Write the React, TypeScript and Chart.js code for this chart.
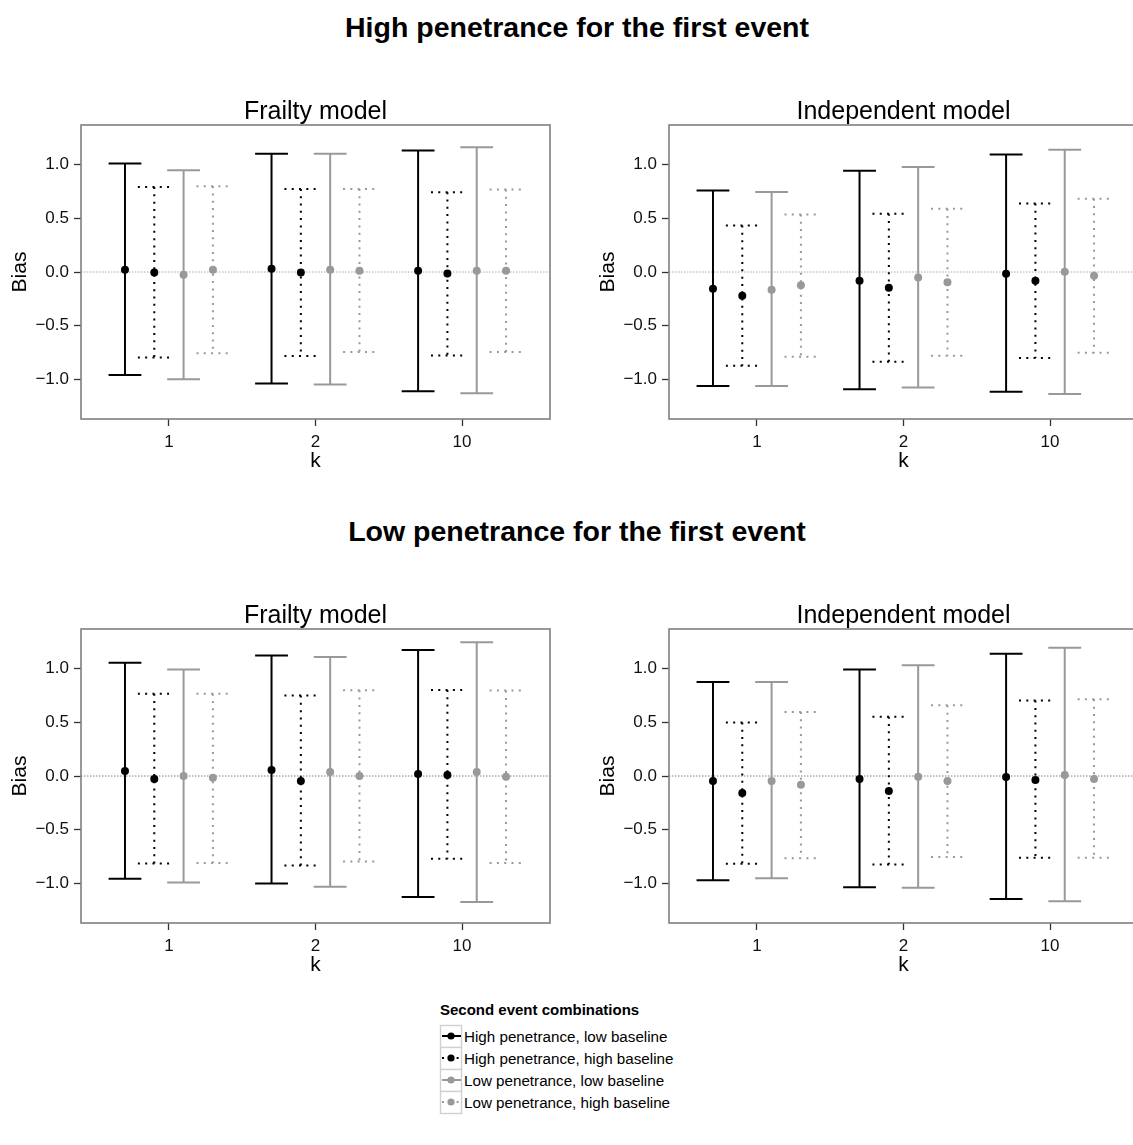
import React, { useEffect, useRef } from "react";
import { Chart, registerables } from "chart.js";

Chart.register(...registerables);

const FONT = '"Liberation Sans", Arial, Helvetica, sans-serif';

// ---------- data ----------
const K_LABELS = ["1", "2", "10"];
const Y_TICKS = [-1, -0.5, 0, 0.5, 1];
const SERIES_NAMES = [
  "High penetrance, low baseline",
  "High penetrance, high baseline",
  "Low penetrance, low baseline",
  "Low penetrance, high baseline",
];

// rows = series (in SERIES_NAMES order), columns = k (K_LABELS order)
// High penetrance for the first event — Frailty model
const HIGH_FRAILTY_MEAN = [
  [0.02, 0.03, 0.012],
  [-0.005, -0.005, -0.015],
  [-0.025, 0.022, 0.012],
  [0.022, 0.012, 0.012],
];
const HIGH_FRAILTY_LOWER = [
  [-0.957, -1.037, -1.109],
  [-0.795, -0.78, -0.776],
  [-0.997, -1.047, -1.127],
  [-0.755, -0.745, -0.745],
];
const HIGH_FRAILTY_UPPER = [
  [1.01, 1.1, 1.13],
  [0.79, 0.773, 0.742],
  [0.947, 1.1, 1.16],
  [0.798, 0.773, 0.767],
];

// High penetrance for the first event — Independent model
const HIGH_INDEP_MEAN = [
  [-0.155, -0.081, -0.016],
  [-0.22, -0.146, -0.081],
  [-0.165, -0.05, 0.003],
  [-0.124, -0.096, -0.034],
];
const HIGH_INDEP_LOWER = [
  [-1.06, -1.09, -1.114],
  [-0.871, -0.834, -0.8],
  [-1.06, -1.073, -1.135],
  [-0.787, -0.778, -0.75],
];
const HIGH_INDEP_UPPER = [
  [0.759, 0.942, 1.092],
  [0.432, 0.541, 0.638],
  [0.743, 0.977, 1.138],
  [0.535, 0.588, 0.681],
];

// Low penetrance for the first event — Frailty model
const LOW_FRAILTY_MEAN = [
  [0.047, 0.056, 0.019],
  [-0.028, -0.047, 0.009],
  [0.0, 0.037, 0.037],
  [-0.016, 0.0, -0.006],
];
const LOW_FRAILTY_LOWER = [
  [-0.956, -1.0, -1.125],
  [-0.813, -0.832, -0.77],
  [-0.99, -1.031, -1.171],
  [-0.81, -0.794, -0.81],
];
const LOW_FRAILTY_UPPER = [
  [1.053, 1.121, 1.171],
  [0.766, 0.748, 0.8],
  [0.99, 1.106, 1.243],
  [0.766, 0.797, 0.794],
];

// Low penetrance for the first event — Independent model
const LOW_INDEP_MEAN = [
  [-0.047, -0.028, -0.009],
  [-0.159, -0.14, -0.037],
  [-0.047, -0.006, 0.009],
  [-0.081, -0.047, -0.028],
];
const LOW_INDEP_LOWER = [
  [-0.969, -1.034, -1.143],
  [-0.816, -0.822, -0.76],
  [-0.95, -1.04, -1.165],
  [-0.766, -0.754, -0.76],
];
const LOW_INDEP_UPPER = [
  [0.875, 0.99, 1.137],
  [0.498, 0.551, 0.701],
  [0.875, 1.031, 1.193],
  [0.595, 0.657, 0.713],
];

// ---------- styling ----------
const GREY = "#999999";
const DOT_DASH = [2, 5.3];
const SERIES_STYLE = [
  { color: "#000000", dash: [] as number[] },
  { color: "#000000", dash: DOT_DASH },
  { color: GREY, dash: [] as number[] },
  { color: GREY, dash: DOT_DASH },
];
const DODGE = [-0.3, -0.1, 0.1, 0.3];
const CAP_HALF = 0.112;

const CANVAS_W = 554;
const CANVAS_H = 395;
const Y_AXIS_W = 81;
const X_AXIS_H = 61;
const PAD_TOP = 40;

const fmtY = (v: number) => v.toFixed(1).replace("-", "\u2212");

type PanelProps = {
  title: string;
  mean: number[][];
  lower: number[][];
  upper: number[][];
  left: number;
  top: number;
  zeroColor: string;
};

function Panel({ title, mean, lower, upper, left, top, zeroColor }: PanelProps) {
  const ref = useRef<HTMLCanvasElement>(null);
  useEffect(() => {
    const canvas = ref.current;
    if (!canvas) return;
    const datasets = SERIES_NAMES.map((name, s) => ({
      label: name,
      data: K_LABELS.map((_, i) => ({ x: i + 1 + DODGE[s], y: mean[s][i] })),
      errLow: lower[s],
      errHigh: upper[s],
      showLine: false,
      pointRadius: 4,
      pointHoverRadius: 4,
      pointBorderWidth: 0,
      pointBackgroundColor: SERIES_STYLE[s].color,
      backgroundColor: SERIES_STYLE[s].color,
      borderColor: SERIES_STYLE[s].color,
    }));

    const decor = {
      id: "decor",
      beforeDatasetsDraw(chart: any) {
        const { ctx, chartArea: a } = chart;
        const x = chart.scales.x;
        const y = chart.scales.y;
        ctx.save();
        // zero reference line
        ctx.strokeStyle = zeroColor;
        ctx.lineWidth = 1;
        ctx.setLineDash([1.5, 1.5]);
        const y0 = y.getPixelForValue(0);
        ctx.beginPath();
        ctx.moveTo(a.left, y0);
        ctx.lineTo(a.right, y0);
        ctx.stroke();
        // error bars
        chart.data.datasets.forEach((ds: any, s: number) => {
          ctx.strokeStyle = SERIES_STYLE[s].color;
          ctx.lineWidth = 2;
          ctx.lineCap = "butt";
          ctx.setLineDash(SERIES_STYLE[s].dash);
          ds.data.forEach((pt: any, i: number) => {
            const px = x.getPixelForValue(pt.x);
            const pl = x.getPixelForValue(pt.x - CAP_HALF);
            const pr = x.getPixelForValue(pt.x + CAP_HALF);
            const yl = y.getPixelForValue(ds.errLow[i]);
            const yh = y.getPixelForValue(ds.errHigh[i]);
            ctx.beginPath();
            ctx.moveTo(pl, yh);
            ctx.lineTo(pr, yh);
            ctx.stroke();
            ctx.beginPath();
            ctx.moveTo(px, yh);
            ctx.lineTo(px, yl);
            ctx.stroke();
            ctx.beginPath();
            ctx.moveTo(pl, yl);
            ctx.lineTo(pr, yl);
            ctx.stroke();
          });
        });
        ctx.restore();
      },
      afterDraw(chart: any) {
        const { ctx, chartArea: a } = chart;
        ctx.save();
        ctx.setLineDash([]);
        ctx.strokeStyle = "#7f7f7f";
        ctx.lineWidth = 1.6;
        ctx.strokeRect(a.left, a.top, a.right - a.left, a.bottom - a.top);
        ctx.fillStyle = "#000";
        ctx.textAlign = "center";
        ctx.textBaseline = "alphabetic";
        ctx.font = `25px ${FONT}`;
        ctx.fillText(title, (a.left + a.right) / 2, a.top - 6);
        ctx.font = `21px ${FONT}`;
        ctx.fillText("k", (a.left + a.right) / 2, a.bottom + 48);
        ctx.translate(26, (a.top + a.bottom) / 2);
        ctx.rotate(-Math.PI / 2);
        ctx.fillText("Bias", 0, 0);
        ctx.restore();
      },
    };

    const chart = new Chart(canvas, {
      type: "scatter",
      data: { datasets: datasets as any },
      options: {
        animation: false,
        responsive: false,
        devicePixelRatio: 1,
        events: [],
        layout: { padding: { top: PAD_TOP, left: 0, right: 0, bottom: 0 } },
        plugins: {
          legend: { display: false },
          tooltip: { enabled: false },
          title: { display: false },
        },
        scales: {
          x: {
            type: "linear",
            min: 0.4,
            max: 3.6,
            afterBuildTicks: (s: any) => {
              s.ticks = K_LABELS.map((_, i) => ({ value: i + 1 }));
            },
            afterFit: (s: any) => {
              s.height = X_AXIS_H;
            },
            ticks: {
              callback: (v: any) => K_LABELS[Math.round(Number(v)) - 1],
              font: { family: FONT, size: 17 },
              color: "#111",
              padding: 6,
              maxRotation: 0,
            },
            grid: {
              display: true,
              drawOnChartArea: false,
              drawTicks: true,
              tickLength: 7,
              tickColor: "#333",
              tickWidth: 1.3,
            },
            border: { display: false },
          },
          y: {
            type: "linear",
            min: -1.367,
            max: 1.367,
            afterBuildTicks: (s: any) => {
              s.ticks = Y_TICKS.map((v) => ({ value: v }));
            },
            afterFit: (s: any) => {
              s.width = Y_AXIS_W;
            },
            ticks: {
              callback: (v: any) => fmtY(Number(v)),
              font: { family: FONT, size: 17 },
              color: "#111",
              padding: 5,
            },
            grid: {
              display: true,
              drawOnChartArea: false,
              drawTicks: true,
              tickLength: 7,
              tickColor: "#333",
              tickWidth: 1.3,
            },
            border: { display: false },
          },
        },
      },
      plugins: [decor as any],
    });
    return () => chart.destroy();
  }, [title, mean, lower, upper, zeroColor]);

  return (
    <canvas
      ref={ref}
      width={CANVAS_W}
      height={CANVAS_H}
      style={{ position: "absolute", left, top, width: CANVAS_W, height: CANVAS_H }}
    />
  );
}

function Legend() {
  const ox = 430;
  const oy = 995;
  const rowH = 22;
  const boxW = 21;
  return (
    <svg
      width={320}
      height={150}
      style={{ position: "absolute", left: ox, top: oy }}
      xmlns="http://www.w3.org/2000/svg"
    >
      <text x={10} y={20} fontFamily={FONT} fontWeight="bold" fontSize={15} fill="#000">
        Second event combinations
      </text>
      {SERIES_NAMES.map((name, s) => {
        const top = 30 + rowH * s;
        const cy = top + rowH / 2;
        const st = SERIES_STYLE[s];
        return (
          <g key={name}>
            <rect x={10.5} y={top + 0.5} width={boxW} height={rowH} fill="#fff" stroke="#d0d0d0" strokeWidth={1.4} />
            <line
              x1={12}
              x2={10 + boxW}
              y1={cy}
              y2={cy}
              stroke={st.color}
              strokeWidth={2}
              strokeDasharray={st.dash.length ? st.dash.join(" ") : undefined}
            />
            <circle cx={10.5 + boxW / 2} cy={cy} r={3.6} fill={st.color} />
            <text x={34} y={cy + 5.5} fontFamily={FONT} fontSize={15.2} fill="#000">
              {name}
            </text>
          </g>
        );
      })}
    </svg>
  );
}

const titleStyle = (top: number): React.CSSProperties => ({
  position: "absolute",
  left: 577,
  top,
  transform: "translateX(-50%)",
  whiteSpace: "nowrap",
  fontFamily: FONT,
  fontWeight: "bold",
  fontSize: 28.5,
  lineHeight: "29px",
  color: "#000",
});

export default function App() {
  return (
    <div
      style={{
        position: "absolute",
        left: 0,
        top: 0,
        width: 1133,
        height: 1145,
        overflow: "hidden",
        background: "#fff",
      }}
    >
      <div style={titleStyle(13)}>High penetrance for the first event</div>
      <Panel title="Frailty model" mean={HIGH_FRAILTY_MEAN} lower={HIGH_FRAILTY_LOWER} upper={HIGH_FRAILTY_UPPER} left={0} top={85} zeroColor="#a8a8a8" />
      <Panel title="Independent model" mean={HIGH_INDEP_MEAN} lower={HIGH_INDEP_LOWER} upper={HIGH_INDEP_UPPER} left={588} top={85} zeroColor="#a8a8a8" />
      <div style={titleStyle(517)}>Low penetrance for the first event</div>
      <Panel title="Frailty model" mean={LOW_FRAILTY_MEAN} lower={LOW_FRAILTY_LOWER} upper={LOW_FRAILTY_UPPER} left={0} top={589} zeroColor="#808080" />
      <Panel title="Independent model" mean={LOW_INDEP_MEAN} lower={LOW_INDEP_LOWER} upper={LOW_INDEP_UPPER} left={588} top={589} zeroColor="#808080" />
      <Legend />
    </div>
  );
}
